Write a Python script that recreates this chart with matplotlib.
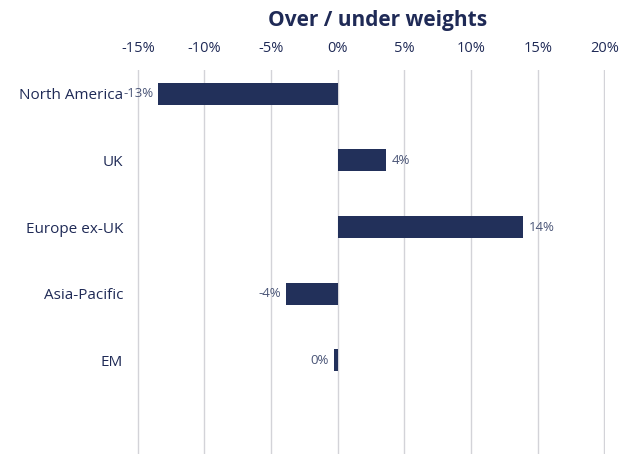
import matplotlib.pyplot as plt
from matplotlib.ticker import FuncFormatter

# data
regions = ["North America", "UK", "Europe ex-UK", "Asia-Pacific", "EM"]
weights = [-13.5, 3.6, 13.9, -3.9, -0.3]
value_labels = ["-13%", "4%", "14%", "-4%", "0%"]

NAVY = "#22305a"
TEXT = "#1f2a56"
LABEL = "#4a5577"

plt.rcParams["font.family"] = ["Open Sans", "DejaVu Sans"]

fig = plt.figure(figsize=(6.29, 4.54), dpi=100)
ax = fig.add_axes([0.218, 0.0, 0.744, 0.846])

ypos = list(range(len(regions)))
ax.barh(ypos, weights, height=0.33, color=NAVY, zorder=3)

for y, w, lab in zip(ypos, weights, value_labels):
    if w < 0:
        ax.text(w - 0.35, y, lab, ha="right", va="center", fontsize=9.5, color=LABEL)
    else:
        ax.text(w + 0.45, y, lab, ha="left", va="center", fontsize=9.5, color=LABEL)

ax.set_xlim(-15.05, 20.05)
ax.set_ylim(5.41, -0.36)
ax.set_xticks(range(-15, 25, 5))
ax.xaxis.set_major_formatter(FuncFormatter(lambda v, _: f"{v:.0f}%"))
ax.xaxis.tick_top()
ax.tick_params(axis="x", length=0, pad=10, labelsize=10.5, labelcolor=TEXT)
ax.set_yticks(ypos)
ax.set_yticklabels(regions, fontsize=11, color=TEXT)
ax.tick_params(axis="y", length=0, pad=10)
ax.grid(axis="x", color="#d3d3d8", lw=1.0, zorder=0)
for s in ax.spines.values():
    s.set_visible(False)

fig.text(0.6, 0.955, "Over / under weights", ha="center", va="center",
         fontsize=15, fontweight="bold", color=TEXT)

fig.savefig("out.png", dpi=100)
